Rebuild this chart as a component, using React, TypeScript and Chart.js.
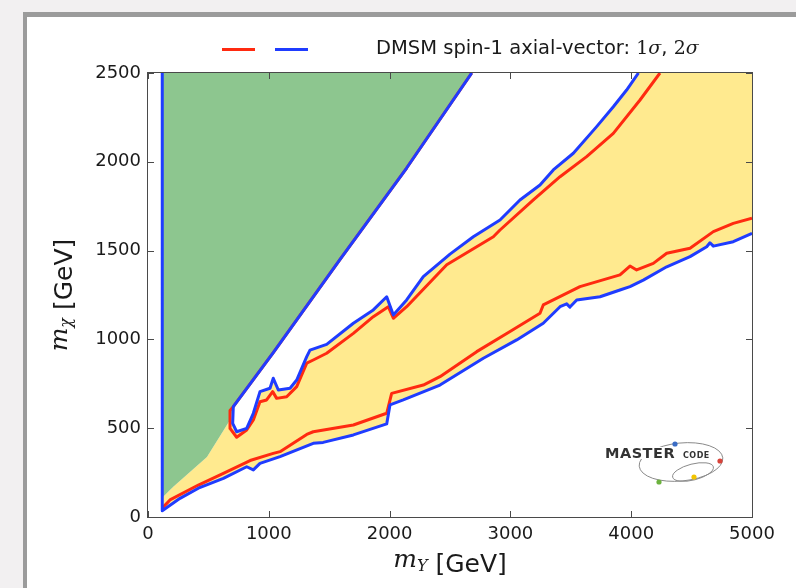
import React, { useEffect, useRef } from 'react';
import { Chart, registerables } from 'chart.js';

Chart.register(...registerables);

// ---------- axis ticks ----------
const X_TICKS = [0, 1000, 2000, 3000, 4000, 5000];
const Y_TICKS = [0, 500, 1000, 1500, 2000, 2500];

// ---------- 2 sigma contour (blue) ----------
// lower branch, including the vertical edge at low m_Y
const lowerBlueX = [118, 118, 265, 417, 624, 817, 872, 927, 1093, 1368, 1450, 1700, 1976, 2003, 2113, 2417, 2776, 3052, 3272, 3411, 3466, 3493, 3549, 3742, 3907, 3990, 4100, 4294, 4487, 4625, 4652, 4680, 4845, 5000];
const lowerBlueY = [2500, 35, 105, 162, 218, 283, 265, 302, 340, 415, 420, 462, 524, 631, 659, 743, 894, 997, 1091, 1184, 1200, 1182, 1222, 1240, 1278, 1297, 1334, 1409, 1466, 1522, 1544, 1525, 1550, 1597];
// upper branch, starting at the top of the diagonal edge
const upperBlueX = [2680, 2141, 1590, 1037, 706, 701, 734, 817, 872, 927, 1010, 1037, 1079, 1176, 1231, 1314, 1341, 1479, 1700, 1865, 1976, 2031, 2141, 2279, 2500, 2693, 2914, 3079, 3245, 3355, 3521, 3714, 3852, 3962, 4060];
const upperBlueY = [2500, 1965, 1450, 925, 621, 527, 480, 499, 584, 706, 725, 781, 715, 725, 771, 903, 940, 972, 1091, 1166, 1240, 1137, 1222, 1353, 1480, 1578, 1672, 1785, 1869, 1954, 2048, 2198, 2310, 2404, 2500];

// ---------- 1 sigma contour (red) ----------
const lowerRedX = [118, 182, 417, 624, 845, 1037, 1093, 1314, 1368, 1700, 1976, 2017, 2279, 2417, 2721, 2997, 3245, 3272, 3576, 3907, 3990, 4045, 4183, 4294, 4487, 4680, 4845, 5000];
const lowerRedY = [50, 96, 180, 246, 318, 358, 368, 465, 480, 518, 584, 696, 743, 790, 931, 1044, 1147, 1194, 1297, 1363, 1413, 1391, 1428, 1485, 1513, 1607, 1653, 1682];
const upperRedX = [2680, 2141, 1590, 1037, 706, 679, 679, 734, 817, 872, 927, 982, 1032, 1065, 1148, 1231, 1314, 1368, 1479, 1700, 1865, 1989, 2031, 2141, 2473, 2859, 2914, 3190, 3411, 3631, 3852, 4073, 4238];
const upperRedY = [2500, 1965, 1450, 925, 621, 600, 499, 449, 490, 546, 649, 659, 706, 668, 677, 734, 866, 884, 922, 1034, 1128, 1184, 1119, 1184, 1420, 1578, 1616, 1785, 1916, 2029, 2160, 2348, 2500];

// ---------- filled regions ----------
const greenX = [118, 2680, 2141, 1590, 1037, 706, 679, 488, 207, 124, 118];
const greenY = [2500, 2500, 1965, 1450, 925, 621, 546, 338, 169, 113, 113];
const yellowX = [118, 265, 417, 624, 817, 872, 927, 1093, 1368, 1450, 1700, 1976, 2003, 2113, 2417, 2776, 3052, 3272, 3411, 3466, 3493, 3549, 3742, 3907, 3990, 4100, 4294, 4487, 4625, 4652, 4680, 4845, 5000, 5000, 4060, 3962, 3852, 3714, 3521, 3355, 3245, 3079, 2914, 2693, 2500, 2279, 2141, 2031, 1976, 1865, 1700, 1479, 1341, 1314, 1231, 1176, 1079, 1037, 1010, 927, 872, 817, 734, 701, 706, 679, 488, 207, 124];
const yellowY = [35, 105, 162, 218, 283, 265, 302, 340, 415, 420, 462, 524, 631, 659, 743, 894, 997, 1091, 1184, 1200, 1182, 1222, 1240, 1278, 1297, 1334, 1409, 1466, 1522, 1544, 1525, 1550, 1597, 2500, 2500, 2404, 2310, 2198, 2048, 1954, 1869, 1785, 1672, 1578, 1480, 1353, 1222, 1137, 1240, 1166, 1091, 972, 940, 903, 771, 725, 715, 781, 725, 706, 584, 499, 480, 527, 621, 546, 338, 169, 113];

const LEGEND_TEXT = 'DMSM spin-1 axial-vector: ';

const BLUE = '#1f3cff';
const RED = '#ff2a10';
const GREEN = '#8dc68f';
const YELLOW = '#ffea8f';

const pts = (xs: number[], ys: number[]) => xs.map((x, i) => ({ x, y: ys[i] }));

const SANS = '"DejaVu Sans", sans-serif';
const SERIF = '"DejaVu Serif", serif';

const bgPlugin = {
  id: 'bgFrame',
  beforeDraw(chart: any) {
    const ctx = chart.ctx;
    ctx.save();
    ctx.fillStyle = '#f2f0f1';
    ctx.fillRect(0, 0, chart.width, chart.height);
    ctx.fillStyle = '#9b9b9b';
    ctx.fillRect(23, 12, chart.width - 23, chart.height - 12);
    ctx.fillStyle = '#ffffff';
    ctx.fillRect(27, 17, chart.width - 27, chart.height - 17);
    ctx.restore();
  },
};

const framePlugin = {
  id: 'axesFrame',
  afterDatasetsDraw(chart: any) {
    const ctx = chart.ctx;
    const { left, right, top, bottom } = chart.chartArea;
    const xs = chart.scales.x;
    const ys = chart.scales.y;
    ctx.save();
    ctx.strokeStyle = '#4a4a4a';
    ctx.lineWidth = 1;
    ctx.strokeRect(Math.round(left) - 0.5, Math.round(top) - 0.5, Math.round(right - left) + 1, Math.round(bottom - top) + 1);
    const L = 6;
    ctx.beginPath();
    X_TICKS.forEach((v) => {
      const p = Math.round(xs.getPixelForValue(v)) + 0.5;
      ctx.moveTo(p, bottom);
      ctx.lineTo(p, bottom - L);
      ctx.moveTo(p, top);
      ctx.lineTo(p, top + L);
    });
    Y_TICKS.forEach((v) => {
      const p = Math.round(ys.getPixelForValue(v)) + 0.5;
      ctx.moveTo(left, p);
      ctx.lineTo(left + L, p);
      ctx.moveTo(right, p);
      ctx.lineTo(right - L, p);
    });
    ctx.stroke();
    ctx.restore();
  },
};

function drawMathLabel(ctx: CanvasRenderingContext2D, sub: string, cx: number, base: number) {
  const mFont = 'italic 25px ' + SERIF;
  const sFont = 'italic 16px ' + SERIF;
  const tFont = '25px ' + SANS;
  ctx.font = mFont;
  const wm = ctx.measureText('m').width;
  ctx.font = sFont;
  const ws = ctx.measureText(sub).width;
  ctx.font = tFont;
  const wt = ctx.measureText(' [GeV]').width;
  const total = wm + ws + wt;
  let x = cx - total / 2;
  ctx.textBaseline = 'alphabetic';
  ctx.textAlign = 'left';
  ctx.font = mFont;
  ctx.fillText('m', x, base - 5);
  x += wm;
  ctx.font = sFont;
  ctx.fillText(sub, x, base - 1);
  x += ws;
  ctx.font = tFont;
  ctx.fillText(' [GeV]', x, base);
}

const textPlugin = {
  id: 'texts',
  afterDraw(chart: any) {
    const ctx = chart.ctx;
    ctx.save();
    ctx.fillStyle = '#1a1a1a';
    drawMathLabel(ctx, 'Y', 450, 572);
    ctx.save();
    ctx.translate(0, 295);
    ctx.rotate(-Math.PI / 2);
    drawMathLabel(ctx, 'χ', 0, 72);
    ctx.restore();

    // legend
    ctx.lineWidth = 3;
    ctx.strokeStyle = RED;
    ctx.beginPath();
    ctx.moveTo(222, 49.5);
    ctx.lineTo(255, 49.5);
    ctx.stroke();
    ctx.strokeStyle = BLUE;
    ctx.beginPath();
    ctx.moveTo(275, 49.5);
    ctx.lineTo(308, 49.5);
    ctx.stroke();
    ctx.fillStyle = '#1a1a1a';
    ctx.textBaseline = 'alphabetic';
    ctx.textAlign = 'left';
    let x = 376;
    const by = 54;
    ctx.font = '19.5px ' + SANS;
    ctx.fillText(LEGEND_TEXT, x, by);
    x += ctx.measureText(LEGEND_TEXT).width;
    const sig = (n: string) => {
      ctx.font = '19px ' + SERIF;
      ctx.fillText(n, x, by);
      x += ctx.measureText(n).width;
      ctx.font = 'italic 19px ' + SERIF;
      ctx.fillText('σ', x, by);
      x += ctx.measureText('σ').width;
    };
    sig('1');
    ctx.font = '19.5px ' + SANS;
    ctx.fillText(', ', x, by);
    x += ctx.measureText(', ').width;
    sig('2');

    // MasterCode logo
    ctx.strokeStyle = '#8a8a8a';
    ctx.lineWidth = 1;
    ctx.beginPath();
    ctx.ellipse(681, 462, 42, 19, -0.1, 0, Math.PI * 2);
    ctx.stroke();
    ctx.beginPath();
    ctx.ellipse(693, 472, 21, 8, -0.25, 0, Math.PI * 2);
    ctx.stroke();
    ctx.fillStyle = '#ffffff';
    ctx.fillRect(603, 447, 78, 12);
    ctx.fillRect(682, 452, 36, 7);
    ctx.fillStyle = '#333333';
    ctx.font = 'bold 14.5px ' + SANS;
    (ctx as any).letterSpacing = '0.5px';
    ctx.fillText('MASTER', 605, 458);
    ctx.font = 'bold 8px ' + SANS;
    (ctx as any).letterSpacing = '0.5px';
    ctx.fillText('CODE', 683, 458);
    (ctx as any).letterSpacing = '0px';
    const dot = (px: number, py: number, c: string) => {
      ctx.fillStyle = c;
      ctx.beginPath();
      ctx.arc(px, py, 2.6, 0, Math.PI * 2);
      ctx.fill();
    };
    dot(675, 444, '#3b6cc4');
    dot(720, 461, '#d8433a');
    dot(659, 482, '#6cb23e');
    dot(694, 477, '#f2c400');
    ctx.restore();
  },
};

export default function App() {
  const ref = useRef<HTMLCanvasElement | null>(null);
  useEffect(() => {
    if (!ref.current) return;
    const lineBase = { showLine: true, pointRadius: 0, pointHoverRadius: 0, borderJoinStyle: 'round' as const, fill: false, tension: 0 };
    const chart = new Chart(ref.current, {
      type: 'scatter',
      data: {
        datasets: [
          { ...lineBase, label: '2σ lower', data: pts(lowerBlueX, lowerBlueY), borderColor: BLUE, borderWidth: 3, order: 1 },
          { ...lineBase, label: '2σ upper', data: pts(upperBlueX, upperBlueY), borderColor: BLUE, borderWidth: 3, order: 1 },
          { ...lineBase, label: '1σ lower', data: pts(lowerRedX, lowerRedY), borderColor: RED, borderWidth: 3, order: 2 },
          { ...lineBase, label: '1σ upper', data: pts(upperRedX, upperRedY), borderColor: RED, borderWidth: 3, order: 2 },
          { ...lineBase, label: 'excluded', data: pts(greenX, greenY), borderColor: 'rgba(0,0,0,0)', borderWidth: 0, backgroundColor: GREEN, fill: 'shape', order: 3 },
          { ...lineBase, label: 'allowed', data: pts(yellowX, yellowY), borderColor: 'rgba(0,0,0,0)', borderWidth: 0, backgroundColor: YELLOW, fill: 'shape', order: 4 },
        ] as any,
      },
      options: {
        responsive: false,
        devicePixelRatio: 1,
        animation: false,
        events: [],
        layout: { padding: { top: 73, right: 44, left: 0, bottom: 0 } },
        plugins: { legend: { display: false }, tooltip: { enabled: false } },
        scales: {
          x: {
            type: 'linear',
            min: 0,
            max: 5000,
            afterBuildTicks: (s: any) => { s.ticks = X_TICKS.map((v) => ({ value: v })); },
            afterFit: (s: any) => { s.height = 71; },
            ticks: { font: { family: 'DejaVu Sans', size: 18 }, color: '#1a1a1a', padding: 7, maxRotation: 0, autoSkip: false, callback: (v: any) => String(v) },
            grid: { display: false, drawTicks: false },
            border: { display: false },
          },
          y: {
            type: 'linear',
            min: 0,
            max: 2500,
            afterBuildTicks: (s: any) => { s.ticks = Y_TICKS.map((v) => ({ value: v })); },
            afterFit: (s: any) => { s.width = 148; },
            ticks: { font: { family: 'DejaVu Sans', size: 18 }, color: '#1a1a1a', padding: 7, autoSkip: false, callback: (v: any) => String(v) },
            grid: { display: false, drawTicks: false },
            border: { display: false },
          },
        },
      } as any,
      plugins: [bgPlugin, framePlugin, textPlugin],
    });
    return () => chart.destroy();
  }, []);
  return (
    <div style={{ position: 'absolute', left: 0, top: 0, width: 796, height: 588 }}>
      <canvas ref={ref} width={796} height={588} style={{ display: 'block' }} />
    </div>
  );
}
